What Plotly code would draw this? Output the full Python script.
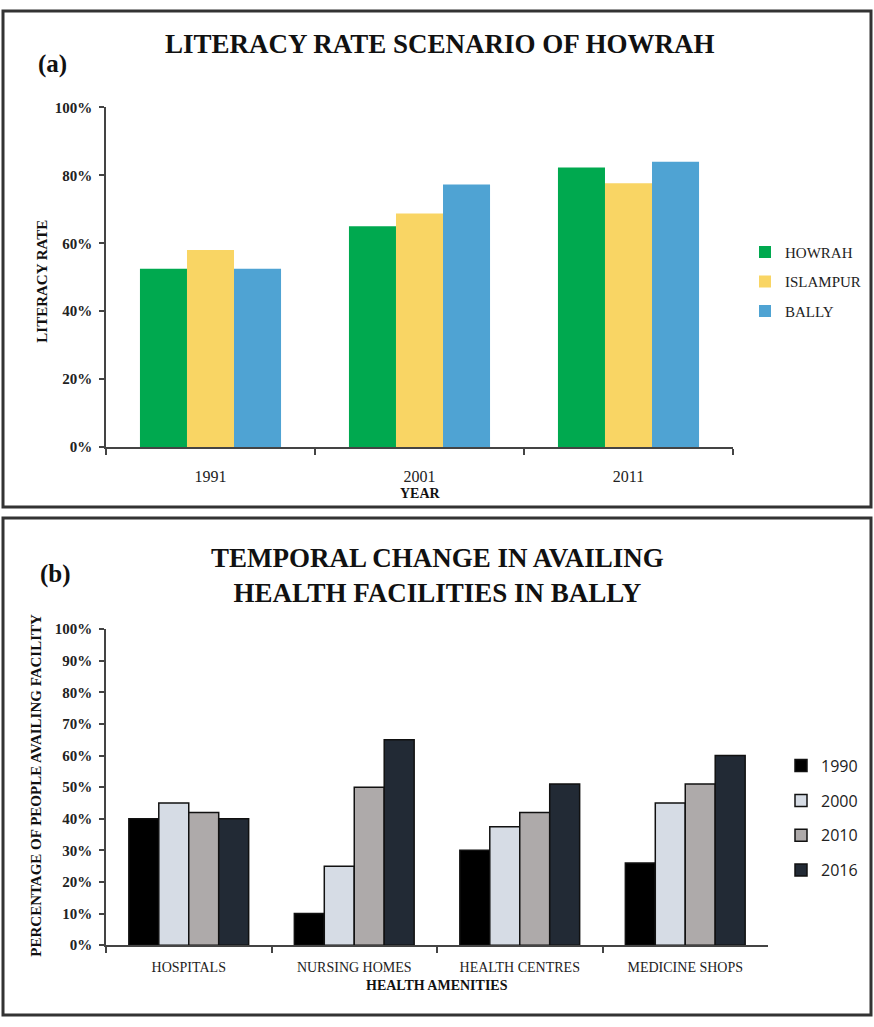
import plotly.graph_objects as go

# ---- Panel (a): literacy rate ----
years = ["1991", "2001", "2011"]
howrah = [52.5, 65.0, 82.3]
islampur = [58.0, 68.8, 77.7]
bally = [52.5, 77.3, 84.0]

# ---- Panel (b): health facilities ----
amenities = ["HOSPITALS", "NURSING HOMES", "HEALTH CENTRES", "MEDICINE SHOPS"]
y1990 = [40, 10, 30, 26]
y2000 = [45, 25, 37.5, 45]
y2010 = [42, 50, 42, 51]
y2016 = [40, 65, 51, 60]

W, H = 874, 1027
SERIF = "Liberation Serif, Times New Roman, serif"


def px(x):
    return x / W


def py(y):
    return 1 - y / H


fig = go.Figure()

lit_series = [("HOWRAH", howrah, "#00A94F"), ("ISLAMPUR", islampur, "#F9D564"), ("BALLY", bally, "#4FA3D3")]
wa = 0.225
for i, (name, vals, col) in enumerate(lit_series):
    fig.add_trace(go.Bar(
        x=years, y=vals, name=name, marker_color=col, marker_line_width=0,
        width=wa, offset=-1.5 * wa + i * wa, xaxis="x", yaxis="y",
        legend="legend", legendgroup=name,
    ))

hf_series = [("1990", y1990, "#000000"), ("2000", y2000, "#D6DCE5"),
             ("2010", y2010, "#AEAAAA"), ("2016", y2016, "#222A35")]
wb = 0.181
for i, (name, vals, col) in enumerate(hf_series):
    fig.add_trace(go.Bar(
        x=amenities, y=vals, name=name, marker_color=col,
        marker_line=dict(color="#111111", width=1.5),
        width=wb, offset=-2 * wb + i * wb, xaxis="x2", yaxis="y2",
        legend="legend2", legendgroup="b" + name,
    ))

axis_common = dict(showgrid=False, zeroline=False, showline=True, linecolor="#444444",
                   linewidth=1.5, ticks="outside", tickcolor="#444444", tickwidth=1.5)

fig.update_layout(
    width=W, height=H,
    margin=dict(l=0, r=0, t=0, b=0),
    paper_bgcolor="white", plot_bgcolor="white",
    barmode="group",
    font=dict(family=SERIF),
    xaxis=dict(domain=[px(106), px(733)], anchor="y", tickson="boundaries", ticklen=6,
               ticklabelstandoff=14,
               tickfont=dict(family=SERIF, size=16, color="#222222"), **axis_common),
    yaxis=dict(domain=[py(446), py(101)], anchor="x", range=[0, 100], dtick=20,
               ticksuffix="%", ticklen=5, ticklabelstandoff=4,
               tickfont=dict(family=SERIF, size=15, color="#222222", weight="bold"), **axis_common),
    xaxis2=dict(domain=[px(106), px(768)], anchor="y2", tickson="boundaries", ticklen=6,
                ticklabelstandoff=8,
                tickfont=dict(family=SERIF, size=14, color="#222222"), **axis_common),
    yaxis2=dict(domain=[py(952), py(631)], anchor="x2", range=[0, 100], dtick=10,
                ticksuffix="%", ticklen=5, ticklabelstandoff=4,
                tickfont=dict(family=SERIF, size=15, color="#222222", weight="bold"), **axis_common),
    legend=dict(x=px(745), y=py(278), xanchor="left", yanchor="middle",
                font=dict(family=SERIF, size=15, color="#222222"),
                traceorder="grouped", tracegroupgap=7, itemwidth=30,
                bgcolor="rgba(0,0,0,0)"),
    legend2=dict(x=px(781), y=py(823), xanchor="left", yanchor="middle",
                 font=dict(family="Open Sans", size=16, color="#222222"),
                 traceorder="grouped", tracegroupgap=11, itemwidth=30,
                 bgcolor="rgba(0,0,0,0)"),
    showlegend=True,
)

# outer frames of both panels
for y0, y1 in [(3, 507), (518, 1023)]:
    fig.add_shape(type="rect", xref="paper", yref="paper",
                  x0=px(3), x1=px(871), y0=py(y1), y1=py(y0),
                  line=dict(color="#333333", width=3), fillcolor="rgba(0,0,0,0)")


def note(text, x, y, size, bold=True, angle=0, family=SERIF):
    fig.add_annotation(text=text, x=px(x), y=py(y), xref="paper", yref="paper",
                       showarrow=False, textangle=angle, xanchor="center", yanchor="middle",
                       font=dict(family=family, size=size, color="#111111",
                                 weight="bold" if bold else "normal"))


note("LITERACY RATE SCENARIO OF HOWRAH", 440, 37, 27)
note("(a)", 52, 57, 25)
note("LITERACY RATE", 42, 278, 15, angle=-90)
note("YEAR", 420, 493, 14)

note("TEMPORAL CHANGE IN AVAILING<br>HEALTH FACILITIES IN BALLY", 437, 576, 27)
note("(b)", 55, 575, 25)
note("PERCENTAGE OF PEOPLE AVAILING FACILITY", 36, 790, 15, angle=-90)
note("HEALTH AMENITIES", 437, 993, 14)

fig.write_html("out.html")
